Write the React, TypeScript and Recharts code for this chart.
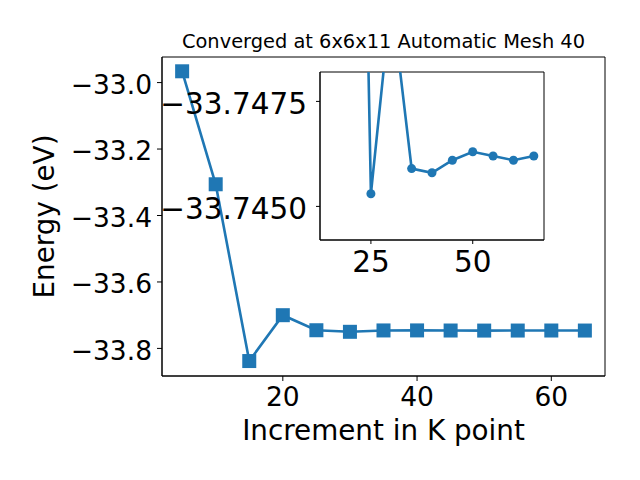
import React from 'react';
import { LineChart, Line, XAxis, YAxis, CartesianGrid, Label } from 'recharts';

// main series: total energy vs k-point increment
const kPoints = [5, 10, 15, 20, 25, 30, 35, 40, 45, 50, 55, 60, 65];
const energies = [
  -32.966, -33.306, -33.838, -33.7, -33.7453, -33.75, -33.7459, -33.7458, -33.7461, -33.7463, -33.7462,
  -33.7461, -33.7462,
];

// inset (zoomed, y axis inverted)
const insetK = [15, 20, 25, 30, 35, 40, 45, 50, 55, 60, 65];
const insetEnergies = [
  -33.838, -33.77, -33.7453, -33.75, -33.7459, -33.7458, -33.7461, -33.7463, -33.7462, -33.7461, -33.7462,
];

const mainYTicks = [-33.8, -33.6, -33.4, -33.2, -33.0];
const mainXTicks = [20, 40, 60];
const insetYTicks = [-33.7475, -33.745];
const insetXTicks = [25, 50];

const title = 'Converged at 6x6x11 Automatic Mesh 40';
const xLabel = 'Increment in K point';
const yLabel = 'Energy (eV)';

const mainData = kPoints.map((k, i) => ({ k, e: energies[i] }));
const insetData = insetK.map((k, i) => ({ k, e: insetEnergies[i] }));

const BLUE = '#1f77b4';
const FONT = 'DejaVu Sans, sans-serif';
const mainTick = { fontSize: 26.5, fill: '#000', fontFamily: FONT };
const insetTick = { fontSize: 29.5, fill: '#000', fontFamily: FONT };
const minus = (s: string) => s.replace('-', '\u2212');

// draw the full box around the plot area (matplotlib spines)
const frameH = ({ offset }: any) => [offset.top, offset.top + offset.height];
const frameV = ({ offset }: any) => [offset.left, offset.left + offset.width];

const Square = (props: any) => {
  const { cx, cy, index } = props;
  if (cx == null || cy == null) return <g key={index} />;
  return <rect key={index} x={cx - 7} y={cy - 7} width={14} height={14} fill={BLUE} />;
};

export default function App() {
  return (
    <div style={{ position: 'absolute', left: 0, top: 0, width: 640, height: 480, background: '#fff', fontFamily: FONT }}>
      <div style={{ position: 'absolute', left: 0, top: 0 }}>
        <LineChart width={640} height={480} data={mainData} margin={{ top: 57, right: 35, left: 0, bottom: 0 }}>
          <CartesianGrid
            stroke="#000"
            strokeWidth={1}
            fill="none"
            horizontalCoordinatesGenerator={frameH}
            verticalCoordinatesGenerator={frameV}
          />
          <XAxis
            dataKey="k"
            type="number"
            domain={[2, 68]}
            ticks={mainXTicks}
            allowDataOverflow
            height={104}
            stroke="#000"
            tickSize={5}
            tickMargin={6}
            tick={mainTick}
          >
            <Label value={xLabel} position="insideBottom" offset={40} fontSize={27.8} fill="#000" fontFamily={FONT} />
            {/* title sits above the plot box: 376 - 48 = 328px above the x axis */}
            <Label value={title} position="top" offset={328} fontSize={19.4} fill="#000" fontFamily={FONT} />
          </XAxis>
          <YAxis
            type="number"
            domain={[-33.883, -32.923]}
            ticks={mainYTicks}
            allowDataOverflow
            width={162}
            stroke="#000"
            tickSize={5}
            tickMargin={5}
            tick={{ ...mainTick, dy: 2 }}
            tickFormatter={(v: number) => minus(v.toFixed(1))}
            label={{
              value: yLabel,
              angle: -90,
              position: 'insideLeft',
              offset: 44,
              textAnchor: 'middle',
              fontSize: 27.8,
              fill: '#000',
              fontFamily: FONT,
            }}
          />
          <Line
            dataKey="e"
            stroke={BLUE}
            strokeWidth={2.6}
            dot={Square}
            activeDot={false}
            isAnimationActive={false}
          />
        </LineChart>
      </div>
      <div style={{ position: 'absolute', left: 0, top: 0 }}>
        <LineChart width={640} height={480} data={insetData} margin={{ top: 72, right: 96, left: 0, bottom: 0 }}>
          <CartesianGrid
            stroke="#000"
            strokeWidth={1}
            fill="#fff"
            horizontalCoordinatesGenerator={frameH}
            verticalCoordinatesGenerator={frameV}
          />
          <XAxis
            dataKey="k"
            type="number"
            domain={[12.5, 67.5]}
            ticks={insetXTicks}
            allowDataOverflow
            height={240}
            stroke="#000"
            tickSize={4}
            tickMargin={7}
            tick={insetTick}
          />
          <YAxis
            type="number"
            domain={[-33.7482, -33.7442]}
            reversed
            ticks={insetYTicks}
            allowDataOverflow
            width={320}
            stroke="#000"
            tickSize={4}
            tickMargin={9}
            tick={{ ...insetTick, dy: 2 }}
            tickFormatter={(v: number) => minus(v.toFixed(4))}
          />
          <Line
            dataKey="e"
            stroke={BLUE}
            strokeWidth={2.6}
            dot={{ r: 4.5, fill: BLUE, stroke: BLUE, strokeWidth: 0 }}
            activeDot={false}
            isAnimationActive={false}
          />
        </LineChart>
      </div>
    </div>
  );
}
